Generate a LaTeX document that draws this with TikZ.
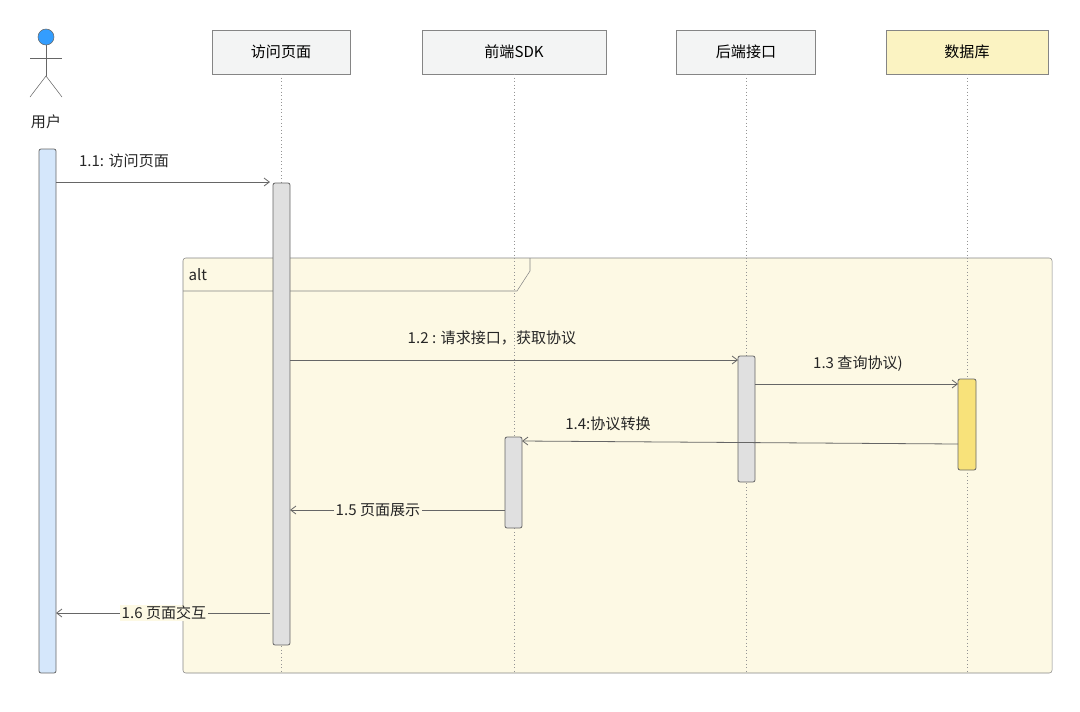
\documentclass[tikz,border=0pt]{standalone}
\usepackage{fontspec}
\setmainfont{Noto Sans CJK SC}
\usetikzlibrary{arrows.meta}
\definecolor{frm}{HTML}{FDF9E4}
\definecolor{bx}{HTML}{F3F4F4}
\definecolor{ln}{HTML}{666666}
\definecolor{ublue}{HTML}{D5E7FB}
\definecolor{dby}{HTML}{F8E27A}
\definecolor{dbbox}{HTML}{FBF3C2}
\begin{document}
\begin{tikzpicture}[x=0.75pt,y=-0.75pt,font=\fontsize{11.3pt}{13pt}\selectfont,
 box/.style={draw=ln!80,fill=bx,minimum width=#1*0.75pt,minimum height=33pt,inner sep=0pt},
 act/.style={draw=ln,rounded corners=1.5pt,line width=0.6pt},
 msg/.style={draw=ln,-{Straight Barb[length=4pt,width=6pt]},line width=0.6pt},
 life/.style={draw=ln!70,dotted,line width=0.6pt},
 lbl/.style={inner sep=1pt,text=black!85}]
\useasboundingbox (0,0) rectangle (1080,711);
% frame
\draw[draw=ln!80,fill=frm,rounded corners=2pt] (183,258) rectangle (1052,673);
\draw[draw=ln!80] (183,291) -- (517,291) -- (530,271) -- (530,258);
\node[lbl,anchor=west] (alt) at (187,275) {alt};
% actor
\node[circle,draw=ln,fill=ublue!40!blue!60!cyan,minimum size=12pt,inner sep=0pt] (head) at (46,37) {};
\draw[ln] (head.south) -- (46,76) coordinate (hip);
\draw[ln] (30,58) -- (62,58);
\draw[ln] (30,97) -- (hip) -- (62,97);
\node[lbl] (user) at (46,122) {用户};
% boxes
\node[box=138] (p) at (281,52) {访问页面};
\node[box=184] (s) at (514,52) {前端SDK};
\node[box=139] (b) at (746,52) {后端接口};
\node[box=162,fill=dbbox] (d) at (967,52) {数据库};
\foreach \n/\x in {p/281,s/514,b/746,d/967}{\coordinate (\n e) at (\x,673); \draw[life] (\n.south) -- (\n e);}
% activations
\draw[act,fill=ublue] (39,149) rectangle (56,673);
\draw[act,fill=black!12] (273,183) rectangle (290,645);
\draw[act,fill=black!12] (738,356) rectangle (755,482);
\draw[act,fill=dby] (958,379) rectangle (976,470);
\draw[act,fill=black!12] (505,437) rectangle (522,528);
% messages
\coordinate (a1) at (56,182); \coordinate (a2) at (270,182);
\draw[msg] (a1) -- (a2);
\node[lbl] at (124,161) {1.1: 访问页面};
\coordinate (b1) at (290,360); \coordinate (b2) at (738,360);
\draw[msg] (b1) -- (b2);
\node[lbl] at (492,338) {1.2 : 请求接口，获取协议};
\coordinate (c1) at (755,384); \coordinate (c2) at (958,384);
\draw[msg] (c1) -- (c2);
\node[lbl] at (858,364) {1.3 查询协议)};
\coordinate (d1) at (958,444); \coordinate (d2) at (522,441);
\draw[msg] (d1) -- (d2);
\node[lbl] at (608,424) {1.4:协议转换};
\coordinate (e1) at (505,510); \coordinate (e2) at (290,510);
\draw[msg] (e1) -- (e2);
\node[lbl,fill=frm] at (378,510) {1.5 页面展示};
\coordinate (f1) at (270,613); \coordinate (f2) at (56,613);
\draw[msg] (f1) -- (f2);
\node[lbl,fill=frm] at (164,613) {1.6 页面交互};
\end{tikzpicture}
\end{document}
